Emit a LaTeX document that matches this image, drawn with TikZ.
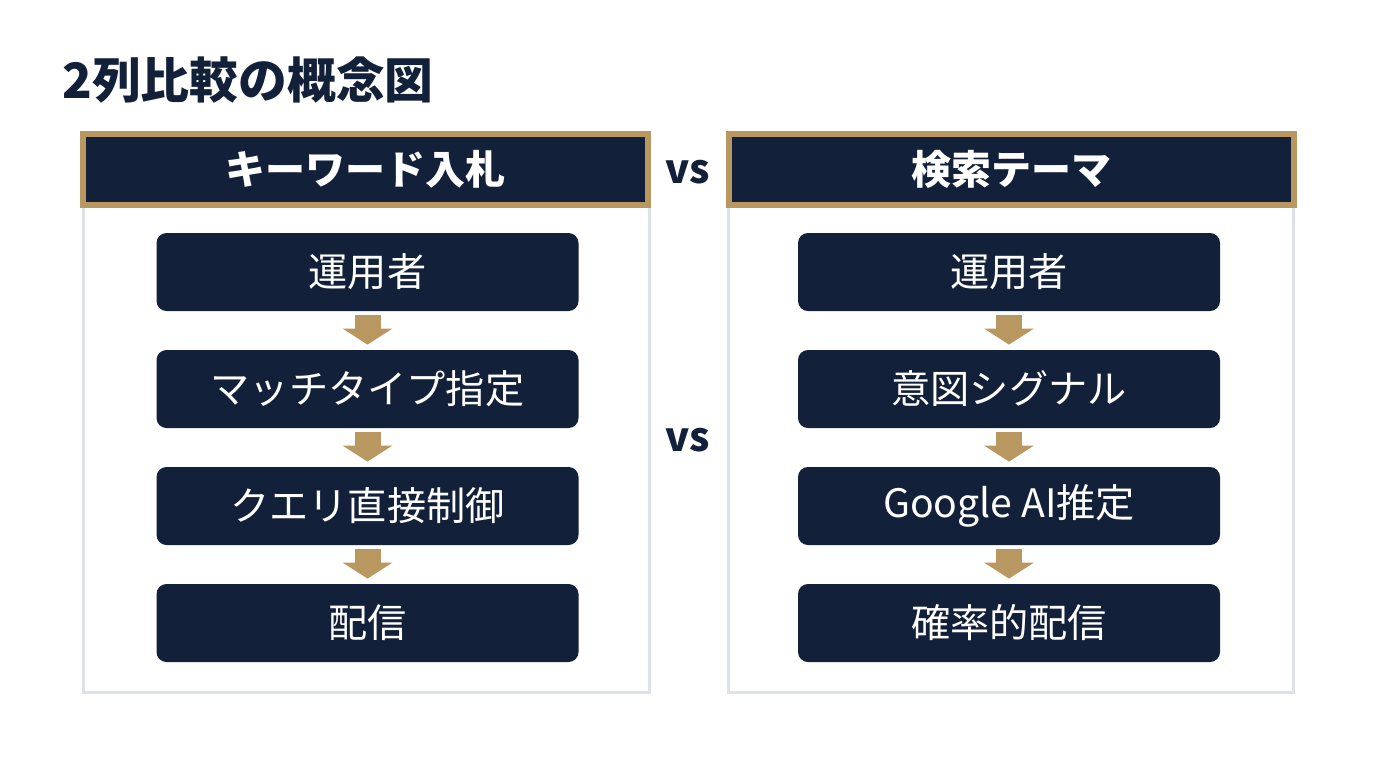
\documentclass[tikz,border=0pt]{standalone}
\usepackage{fontspec}
\setmainfont{Noto Sans CJK JP}
\usetikzlibrary{arrows.meta}
\definecolor{marine}{RGB}{18,32,58}
\definecolor{dore}{RGB}{184,151,96}
\definecolor{gris}{RGB}{221,225,232}
\tikzset{
  etape/.style={fill=marine, text=white, rounded corners=5pt, minimum width=211pt, minimum height=39pt, font=\fontsize{19.6}{19.6}\selectfont},
  entete/.style={draw=dore, line width=3pt, fill=marine, text=white, minimum width=282.5pt, minimum height=35.5pt, font=\bfseries\fontsize{20}{20}\selectfont},
  fleche/.style={draw=dore, line width=13pt, -{Triangle[width=24.5pt,length=8pt]}, shorten <=2pt, shorten >=2.5pt},
  cadre/.style={draw=gris, line width=1.5pt}
}
\begin{document}
\begin{tikzpicture}[x=0.5pt,y=-0.5pt]
                \useasboundingbox (0,0) rectangle (1376,768);
                \node (titre) at (62,80) [anchor=west, inner sep=0pt, text=marine, font=\bfseries\fontsize{24.4}{24.4}\selectfont] {2列比較の概念図};
                \draw [cadre] (83,175) rectangle (649,692) ;
                \draw [cadre] (728,175) rectangle (1293,692) ;
                \node (kw) at (365.5,169.5) [entete] {キーワード入札};
                \node (th) at (1011,169.5) [entete] {検索テーマ};
                \node (vs1) at (688,172) [text=marine, font=\bfseries\fontsize{20}{20}\selectfont] {vs};
                \node (vs2) at (688,440) [text=marine, font=\bfseries\fontsize{20}{20}\selectfont] {vs};
                % colonne gauche
                \node (k1) at (367.5,272) [etape] {運用者};
                \node (k2) at (367.5,389) [etape] {マッチタイプ指定};
                \node (k3) at (367.5,506) [etape] {クエリ直接制御};
                \node (k4) at (367.5,623) [etape] {配信};
                \draw [fleche] (k1)--(k2) ;
                \draw [fleche] (k2)--(k3) ;
                \draw [fleche] (k3)--(k4) ;
                % colonne droite
                \node (t1) at (1009,272) [etape] {運用者};
                \node (t2) at (1009,389) [etape] {意図シグナル};
                \node (t3) at (1009,506) [etape] {Google AI推定};
                \node (t4) at (1009,623) [etape] {確率的配信};
                \draw [fleche] (t1)--(t2) ;
                \draw [fleche] (t2)--(t3) ;
                \draw [fleche] (t3)--(t4) ;
            \end{tikzpicture}
\end{document}
